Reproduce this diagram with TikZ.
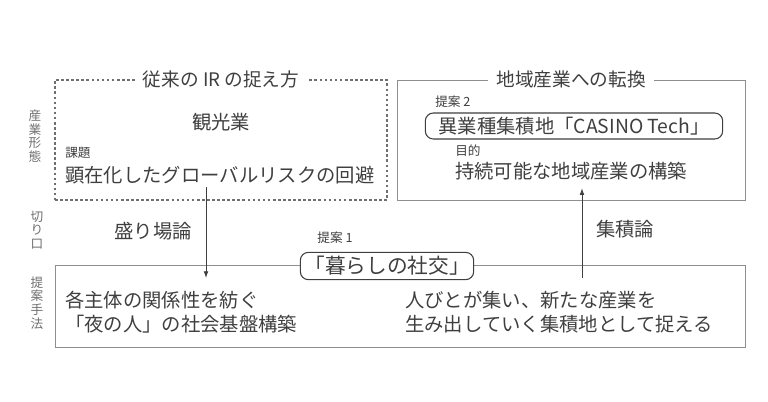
\documentclass[tikz,border=0pt]{standalone}
\usepackage{fontspec}
\setmainfont{Noto Sans CJK JP}
\usetikzlibrary{positioning}
\usetikzlibrary{arrows.meta}
\definecolor{ink}{HTML}{3F3F3F}
\definecolor{rule}{HTML}{8E8E8E}

\begin{document}
\begin{tikzpicture}[x=0.75pt, y=-0.75pt,
    FRAME/.style={rectangle, draw=rule, semithick, inner sep=0pt},
    DFRAME/.style={rectangle, draw=ink!75, thick, dash pattern=on 2pt off 1.8pt, inner sep=0pt},
    TITLE/.style={fill=white, text=ink, font=\fontsize{14}{16}\selectfont, inner xsep=6pt, inner ysep=1pt},
    TEXT/.style={text=ink, font=\fontsize{14.5}{18.5}\selectfont, align=left, inner sep=0pt},
    SMALL/.style={text=ink, font=\fontsize{9.5}{11}\selectfont, inner sep=0pt},
    TAG/.style={rectangle, rounded corners=6pt, draw=ink, thick, fill=white, text=ink, font=\fontsize{14.5}{16}\selectfont, inner xsep=3pt, inner ysep=3pt},
    SIDE/.style={text=ink!75, font=\fontsize{9.5}{10.3}\selectfont, align=center, inner sep=0pt}]

    \useasboundingbox (0,0) rectangle (768,401);

    % frames
    \node[DFRAME, minimum width=249pt, minimum height=90pt] (old) at (221,140) {};
    \node[FRAME, minimum width=261pt, minimum height=90pt] (new) at (571,140) {};
    \node[FRAME, minimum width=517.5pt, minimum height=61.5pt] (method) at (400,306) {};

    \node[TITLE] (oldtitle) at (old.north) {従来の IR の捉え方};
    \node[TITLE] (newtitle) at (new.north) {地域産業への転換};

    % side labels
    \node[SIDE] (form) at (35,136) {産\\業\\形\\態};
    \node[SIDE] (cut) at (37,230) {切\\り\\口};
    \node[SIDE] (way) at (37,303) {提\\案\\手\\法};

    % left frame
    \node[TEXT] (tourism) at (221,122) {観光業};
    \node[SMALL, anchor=west] (task) at (65,153) {課題};
    \node[TEXT, anchor=west] (risk) at (65,175) {顕在化したグローバルリスクの回避};

    % right frame
    \node[SMALL, anchor=west] (prop2) at (435,102) {提案 2};
    \node[TAG, minimum width=223pt] (casino) at (574,126) {異業種集積地「CASINO Tech」};
    \node[SMALL, anchor=west] (aim) at (455,151) {目的};
    \node[TEXT, anchor=west] (goal) at (455,171) {持続可能な地域産業の構築};

    % middle
    \node[TEXT] (sakariba) at (153,231) {盛り場論};
    \node[TEXT] (shuseki) at (625,229) {集積論};
    \node[SMALL] (prop1) at (335,238) {提案 1};
    \node[TAG, minimum width=127pt, font=\fontsize{15.5}{17}\selectfont] (social) at (387,266) {「暮らしの社交」};

    % bottom frame
    \node[TEXT, anchor=west] (bond) at (65,312) {各主体の関係性を紡ぐ\\「夜の人」の社会基盤構築};
    \node[TEXT, anchor=west] (gather) at (405,312) {人びとが集い、新たな産業を\\生み出していく集積地として捉える};

    \coordinate (downtip) at (206,278);
    \coordinate (uptail) at (582,278);

    \draw[-{Latex[length=5pt, width=3.5pt]}, ink, semithick, shorten <=2pt] (risk.south -| downtip) -- (downtip);
    \draw[-{Latex[length=5pt, width=3.5pt]}, ink, semithick, shorten >=6pt] (uptail) -- (goal.south -| uptail);
\end{tikzpicture}
\end{document}
